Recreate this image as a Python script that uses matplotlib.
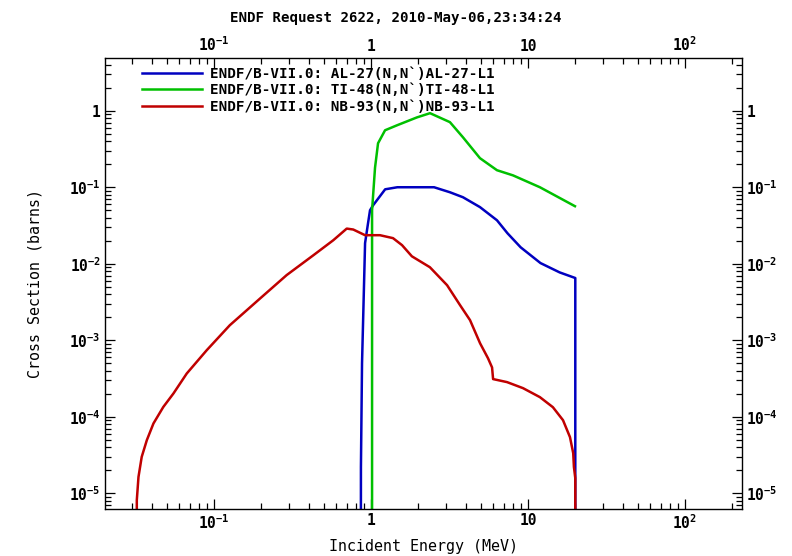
import math
import matplotlib
matplotlib.use("Agg")
import matplotlib.pyplot as plt
from matplotlib.ticker import LogLocator, FuncFormatter, NullFormatter

# font: chunky monospace like the original bitmap font
plt.rcParams['font.family'] = 'DejaVu Sans Mono'
plt.rcParams['font.weight'] = 'bold'
plt.rcParams['mathtext.fontset'] = 'custom'
plt.rcParams['mathtext.rm'] = 'DejaVu Sans Mono:bold'
plt.rcParams['mathtext.bf'] = 'DejaVu Sans Mono:bold'
plt.rcParams['mathtext.default'] = 'bf'

title = "ENDF Request 2622, 2010-May-06,23:34:24"
labels = [
    "ENDF/B-VII.0: AL-27(N,N`)AL-27-L1",
    "ENDF/B-VII.0: TI-48(N,N`)TI-48-L1",
    "ENDF/B-VII.0: NB-93(N,N`)NB-93-L1",
]
colors = ['#0000c0', '#00c000', '#c00000']

# AL-27 (n,n') -> first level
al_e = [0.86, 0.862, 0.876, 0.916, 0.957, 0.985, 1.03, 1.23, 1.47, 2.52, 3.18,
        3.85, 4.94, 6.34, 7.4, 8.97, 12.0, 15.9, 20.0, 20.0]
al_xs = [1e-8, 2.2e-5, 5e-4, 0.0186, 0.034, 0.05, 0.058, 0.094, 0.1, 0.1, 0.086,
         0.074, 0.055, 0.037, 0.025, 0.0164, 0.0102, 0.0077, 0.0065, 1e-8]

# TI-48 (n,n') -> first level
ti_e = [1.015, 1.015, 1.06, 1.108, 1.228, 1.464, 1.963, 2.375, 3.18, 3.85,
        4.94, 6.34, 8.02, 11.9, 19.9]
ti_xs = [1e-8, 0.05, 0.18, 0.376, 0.556, 0.646, 0.82, 0.93, 0.71, 0.45,
         0.24, 0.167, 0.143, 0.1, 0.0565]

# NB-93 (n,n') -> first level
nb_e = [0.0322, 0.0322, 0.033, 0.0346, 0.0373, 0.0411, 0.0475, 0.0551, 0.067,
        0.0898, 0.126, 0.196, 0.29, 0.429, 0.575, 0.70, 0.77, 0.916, 1.14,
        1.38, 1.575, 1.82, 2.37, 3.05, 3.69, 4.27, 4.95, 5.56, 5.9, 5.99,
        7.35, 9.29, 11.9, 14.4, 16.7, 18.5, 19.4, 19.6, 20.0, 20.0]
nb_xs = [1e-8, 8.1e-6, 1.63e-5, 2.98e-5, 4.93e-5, 8.15e-5, 1.34e-4, 2.01e-4, 3.67e-4,
         7.4e-4, 1.57e-3, 3.5e-3, 7.1e-3, 0.0129, 0.0203, 0.0288, 0.028, 0.0236, 0.0236,
         0.0216, 0.0175, 0.0125, 0.009, 0.00524, 0.00287, 0.00183, 9.1e-4, 5.8e-4, 4.4e-4, 3.1e-4,
         2.83e-4, 2.36e-4, 1.8e-4, 1.33e-4, 9e-5, 5.4e-5, 3.33e-5, 2.2e-5, 1.57e-5, 1e-8]

fig = plt.figure(figsize=(7.92, 5.56), dpi=100)
ax = fig.add_axes([0.1326, 0.0845, 0.8044, 0.8112])

for e, xs, lab, c in zip([al_e, ti_e, nb_e], [al_xs, ti_xs, nb_xs], labels, colors):
    ax.plot(e, xs, color=c, lw=1.8, label=lab)

ax.set_xscale('log')
ax.set_yscale('log')
ax.set_xlim(0.0202, 231)
ax.set_ylim(6.2e-6, 4.9)


def fmt(v, pos):
    if abs(v - 1) < 1e-9:
        return "1"
    if abs(v - 10) < 1e-6:
        return "10"
    p = int(round(math.log10(v)))
    return r"$10^{%d}$" % p


for axis in [ax.xaxis, ax.yaxis]:
    axis.set_major_locator(LogLocator(base=10, numticks=20))
    axis.set_minor_locator(LogLocator(base=10, subs=range(2, 10), numticks=20))
    axis.set_major_formatter(FuncFormatter(fmt))
    axis.set_minor_formatter(NullFormatter())

ax.tick_params(which='both', direction='in', top=True, right=True,
               labeltop=True, labelright=True, labelsize=10.5, width=0.9)
ax.tick_params(which='major', length=7, pad=3)
ax.tick_params(which='minor', length=4)
for s in ax.spines.values():
    s.set_linewidth(1.0)

ax.set_xlabel("Incident Energy (MeV)", fontsize=10.8, labelpad=5)
ax.set_ylabel("Cross Section (barns)", fontsize=10.8, labelpad=19)
fig.text(0.5, 0.968, title, ha='center', va='center', fontsize=10.2)

ax.legend(loc='upper left', frameon=False, fontsize=10.3, handlelength=4.2,
          handletextpad=0.55, labelspacing=0.18, borderaxespad=0.2,
          bbox_to_anchor=(0.045, 1.0))

fig.savefig("out.png", dpi=100)
